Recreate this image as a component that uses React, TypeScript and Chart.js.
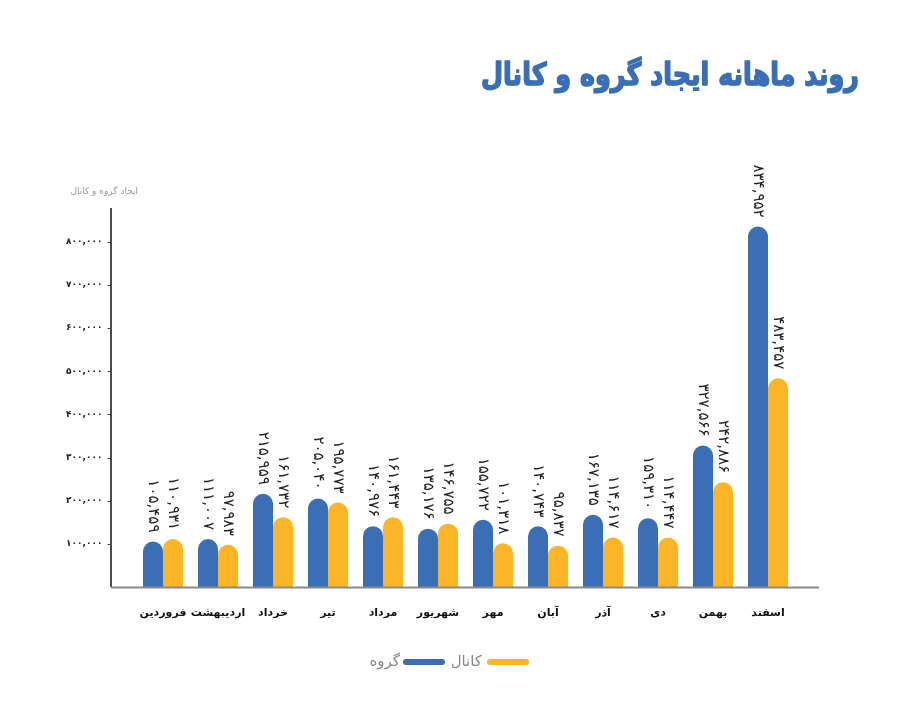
import React, { useEffect, useRef } from "react";
import { Chart, registerables } from "chart.js";

Chart.register(...registerables);

// Monthly creation counts (Persian calendar months)
const months = [
  "فروردین", "اردیبهشت", "خرداد", "تیر", "مرداد", "شهریور",
  "مهر", "آبان", "آذر", "دی", "بهمن", "اسفند",
];
const groupValues = [
  105459, 111007, 215959, 205040, 140976, 135176,
  155722, 140743, 167135, 159310, 327566, 834952,
];
const channelValues = [
  110931, 97983, 161732, 195773, 161443, 146755,
  101318, 95837, 114617, 114447, 242886, 483457,
];
const yTicks = [100000, 200000, 300000, 400000, 500000, 600000, 700000, 800000];

const title = "روند ماهانه ایجاد گروه و کانال";
const yCaption = "ایجاد گروه و کانال";
const groupLabel = "گروه";
const channelLabel = "کانال";

const BLUE = "#3a6eb5";
const YELLOW = "#fbb526";
const FONT = "'DejaVu Sans', sans-serif";

const faDigits = "۰۱۲۳۴۵۶۷۸۹";
function toFa(n: number): string {
  const s = Math.round(n).toString().replace(/\B(?=(\d{3})+(?!\d))/g, ",");
  return s.replace(/\d/g, (d) => faDigits[Number(d)]);
}

// Axis lines, captions, value labels and legend
const decorations = {
  id: "decorations",
  afterDatasetsDraw(chart: any) {
    const { ctx, chartArea } = chart;
    const yScale = chart.scales.y;
    const axisX = chartArea.left - 24.5;
    const axisRight = chartArea.right + 23.5;

    ctx.save();
    // y axis line
    ctx.strokeStyle = "#111";
    ctx.lineWidth = 1.5;
    ctx.beginPath();
    ctx.moveTo(axisX, chartArea.top);
    ctx.lineTo(axisX, chartArea.bottom);
    ctx.stroke();
    // y tick marks
    ctx.lineWidth = 1;
    ctx.strokeStyle = "#444";
    yTicks.forEach((v) => {
      const y = Math.round(yScale.getPixelForValue(v)) + 0.5;
      ctx.beginPath();
      ctx.moveTo(axisX - 3.5, y);
      ctx.lineTo(axisX, y);
      ctx.stroke();
    });
    // x axis line
    ctx.strokeStyle = "#8a8a8a";
    ctx.lineWidth = 2;
    ctx.beginPath();
    ctx.moveTo(axisX, chartArea.bottom + 0.5);
    ctx.lineTo(axisRight, chartArea.bottom + 0.5);
    ctx.stroke();

    // value labels above bars, rotated
    ctx.fillStyle = "#222";
    ctx.font = `15px ${FONT}`;
    ctx.textAlign = "right";
    ctx.textBaseline = "middle";
    chart.data.datasets.forEach((ds: any, di: number) => {
      const meta = chart.getDatasetMeta(di);
      meta.data.forEach((el: any, i: number) => {
        ctx.save();
        ctx.translate(el.x, el.y - 9);
        ctx.rotate(Math.PI / 2);
        ctx.fillText(toFa(ds.data[i]), 0, 0);
        ctx.restore();
      });
    });

    // title: heavy, slightly condensed
    ctx.save();
    ctx.fillStyle = BLUE;
    ctx.strokeStyle = BLUE;
    ctx.lineWidth = 1.6;
    ctx.lineJoin = "round";
    ctx.font = `bold 31px ${FONT}`;
    ctx.textAlign = "right";
    ctx.textBaseline = "alphabetic";
    const tw = ctx.measureText(title).width;
    const sx = Math.min(1, 378 / tw);
    ctx.translate(859, 85);
    ctx.scale(sx, 1);
    ctx.fillText(title, 0, 0);
    ctx.strokeText(title, 0, 0);
    ctx.restore();

    // y axis caption
    ctx.fillStyle = "#999";
    ctx.font = `9px ${FONT}`;
    ctx.textAlign = "right";
    ctx.textBaseline = "middle";
    ctx.fillText(yCaption, 138, 192);

    // legend
    const ly = 662;
    ctx.lineCap = "round";
    ctx.lineWidth = 6;
    ctx.strokeStyle = YELLOW;
    ctx.beginPath();
    ctx.moveTo(490, ly);
    ctx.lineTo(526, ly);
    ctx.stroke();
    ctx.strokeStyle = BLUE;
    ctx.beginPath();
    ctx.moveTo(406, ly);
    ctx.lineTo(442, ly);
    ctx.stroke();
    ctx.fillStyle = "#888";
    ctx.font = `15px ${FONT}`;
    ctx.textAlign = "right";
    ctx.fillText(channelLabel, 482, ly);
    ctx.fillText(groupLabel, 400, ly);
    ctx.restore();
  },
};

export default function App() {
  const canvasRef = useRef<HTMLCanvasElement | null>(null);

  useEffect(() => {
    if (!canvasRef.current) return;
    const chart = new Chart(canvasRef.current, {
      type: "bar",
      data: {
        labels: months,
        datasets: [
          {
            label: groupLabel,
            data: groupValues,
            backgroundColor: BLUE,
            borderRadius: 20,
            borderSkipped: "start",
          },
          {
            label: channelLabel,
            data: channelValues,
            backgroundColor: YELLOW,
            borderRadius: 20,
            borderSkipped: "start",
          },
        ],
      },
      options: {
        responsive: false,
        animation: false,
        datasets: {
          bar: { barPercentage: 1, categoryPercentage: 0.727 },
        },
        layout: { padding: { top: 208, right: 102.5, left: 0, bottom: 0 } },
        plugins: {
          legend: { display: false },
          tooltip: { enabled: false },
        },
        scales: {
          x: {
            grid: { display: false },
            border: { display: false },
            ticks: {
              color: "#111",
              font: { family: FONT, size: 11, weight: "bold" },
              padding: 12,
              maxRotation: 0,
              autoSkip: false,
            },
            afterFit: (s: any) => {
              s.height = 114;
            },
          },
          y: {
            min: 0,
            max: 878000,
            grid: { display: false },
            border: { display: false },
            afterBuildTicks: (s: any) => {
              s.ticks = yTicks.map((v) => ({ value: v }));
            },
            ticks: {
              color: "#222",
              font: { family: FONT, size: 9, weight: "bold" },
              padding: 25,
              callback: (v: any) => toFa(Number(v)),
            },
            afterFit: (s: any) => {
              s.width = 135.5;
            },
          },
        },
      },
      plugins: [decorations],
    });
    return () => chart.destroy();
  }, []);

  return (
    <div style={{ position: "fixed", left: 0, top: 0, width: 898, height: 701, background: "#fff" }}>
      <canvas ref={canvasRef} width={898} height={701} />
    </div>
  );
}
